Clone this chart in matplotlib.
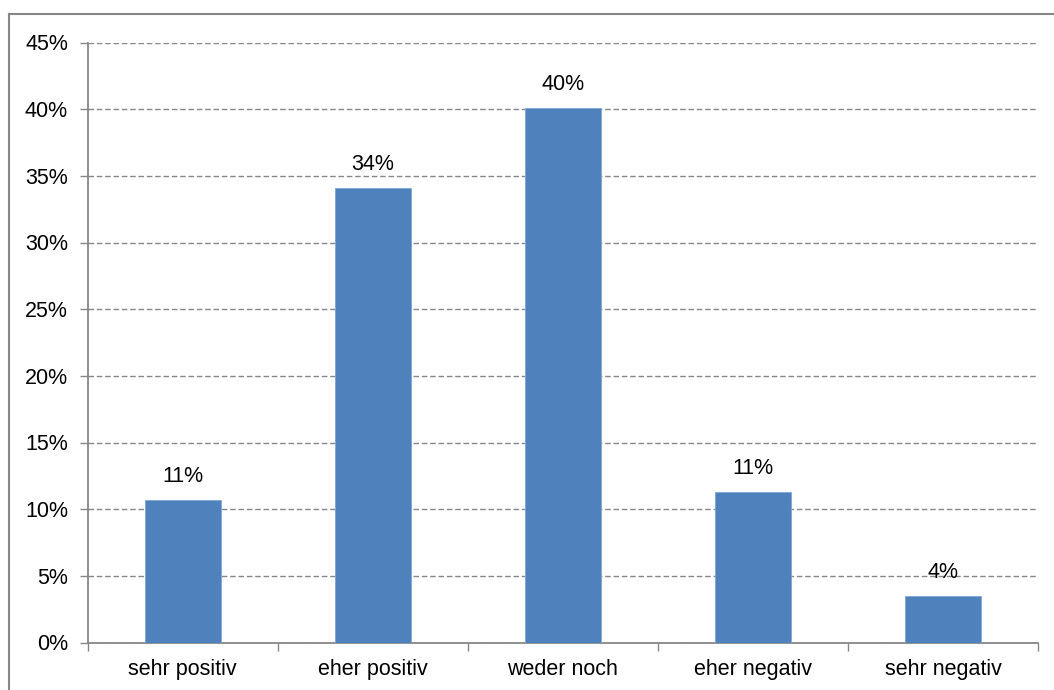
import matplotlib
matplotlib.use("Agg")
import matplotlib.pyplot as plt
from matplotlib.lines import Line2D
from matplotlib.ticker import FuncFormatter, MultipleLocator

categories = ["sehr positiv", "eher positiv", "weder noch", "eher negativ", "sehr negativ"]
values = [10.7, 34.1, 40.1, 11.3, 3.5]
labels = ["11%", "34%", "40%", "11%", "4%"]

plt.rcParams['font.family'] = ['Liberation Sans', 'DejaVu Sans']
W, H = 1054, 690
fs = 15.5
fig = plt.figure(figsize=(W / 100, H / 100), dpi=100)
ax = fig.add_axes([87.5 / W, 1 - 642.5 / H, (1038 - 87.5) / W, (642.5 - 42.5) / H])

grey = "#878787"
x = list(range(len(categories)))
ax.bar(x, values, width=0.4, color="#4F81BD", edgecolor="#7FA6D6", linewidth=0.6, zorder=3)
for xi, v, lab in zip(x, values, labels):
    ax.text(xi, v + 1.3, lab, ha="center", va="baseline", fontsize=fs, color="black", zorder=4)

ax.set_xlim(-0.5, len(categories) - 0.5)
ax.set_ylim(0, 45)
ax.yaxis.set_major_locator(MultipleLocator(5))
ax.yaxis.set_major_formatter(FuncFormatter(lambda v, p: f"{int(round(v))}%"))
ax.yaxis.grid(True, linestyle=(0, (4, 2)), color=grey, linewidth=1.0, zorder=0)
ax.set_axisbelow(True)

ax.set_xticks([i - 0.5 for i in range(len(categories) + 1)], minor=False)
ax.set_xticklabels([])
ax.set_xticks(x, minor=True)
ax.set_xticklabels(categories, minor=True, fontsize=fs)
ax.tick_params(axis="x", which="minor", length=0, pad=12)
ax.tick_params(axis="x", which="major", length=6, color=grey, width=1)
ax.tick_params(axis="y", length=6, color=grey, width=1, labelsize=fs, pad=8)

for s in ["top", "right"]:
    ax.spines[s].set_visible(False)
for s in ["left", "bottom"]:
    ax.spines[s].set_color(grey)
    ax.spines[s].set_linewidth(1.3)

# outer chart border (extends beyond bottom/right of image)
fig.add_artist(Line2D([9 / W, 1.01], [1 - 14 / H, 1 - 14 / H], color=grey, linewidth=1.5))
fig.add_artist(Line2D([9 / W, 9 / W], [1 - 14 / H, -0.01], color=grey, linewidth=1.5))

fig.savefig("out.png", dpi=100, facecolor="white")
